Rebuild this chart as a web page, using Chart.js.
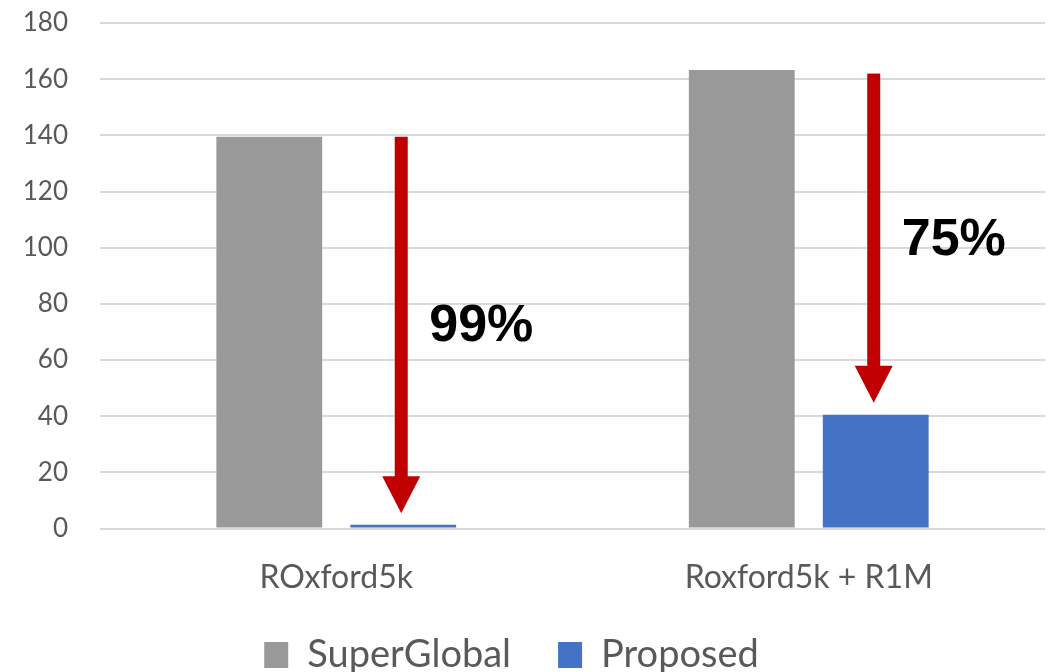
<!DOCTYPE html>
<html>
<head>
<meta charset="utf-8">
<script src="https://cdn.jsdelivr.net/npm/chart.js@4.4.1/dist/chart.umd.min.js"></script>
<style>
  html, body { margin: 0; padding: 0; background: #ffffff; }
  #wrap { width: 1055px; height: 672px; position: relative; }
</style>
</head>
<body>
<div id="wrap"><canvas id="chart" width="1055" height="672"></canvas></div>
<script>
// Benchmarks on the x axis
const categories = ['ROxford5k', 'Roxford5k + R1M'];
// Values per method
const superGlobal = [139.5, 163.3];
const proposed = [1.4, 40.5];
// Reduction arrows: start and end values for each benchmark
const arrowFrom = [139.5, 162];
const arrowTo = [5.5, 44.8];
const reductionLabels = ['99%', '75%'];
// Value axis ticks
const yMin = 0, yMax = 180, yStep = 20;

const textGrey = '#595959';
const gridGrey = '#d9d9d9';
const labelFont = 'Lato, "Open Sans", sans-serif';

// Draws the red downward arrows and the reduction percentages
const reductionArrows = {
  id: 'reductionArrows',
  afterDatasetsDraw(chart) {
    const ctx = chart.ctx;
    const y = chart.scales.y;
    const meta = chart.getDatasetMeta(1);
    const shaftW = 13, headW = 38, headH = 37;
    ctx.save();
    arrowFrom.forEach((from, i) => {
      const x = meta.data[i].x - 2;
      const top = y.getPixelForValue(from);
      const tip = y.getPixelForValue(arrowTo[i]);
      ctx.fillStyle = '#c00000';
      ctx.fillRect(x - shaftW / 2, top, shaftW, tip - headH - top + 1);
      ctx.beginPath();
      ctx.moveTo(x - headW / 2, tip - headH);
      ctx.lineTo(x + headW / 2, tip - headH);
      ctx.lineTo(x, tip);
      ctx.closePath();
      ctx.fill();
      ctx.fillStyle = '#000000';
      ctx.font = 'bold 52px "Liberation Sans", Arial, sans-serif';
      ctx.textAlign = 'left';
      ctx.textBaseline = 'middle';
      ctx.fillText(reductionLabels[i], x + 28, (top + tip) / 2 + 2);
    });
    ctx.restore();
  }
};

// Nudges the legend row slightly left of centre
const legendShift = {
  id: 'legendShift',
  afterUpdate(chart) {
    const lg = chart.legend;
    if (lg) { lg.left -= 11; lg.right -= 11; }
  }
};

new Chart(document.getElementById('chart'), {
  type: 'bar',
  data: {
    labels: categories,
    datasets: [
      { label: 'SuperGlobal', data: superGlobal, backgroundColor: '#999999' },
      { label: 'Proposed', data: proposed, backgroundColor: '#4472c4' }
    ]
  },
  options: {
    responsive: false,
    animation: false,
    devicePixelRatio: 1,
    categoryPercentage: 0.567,
    barPercentage: 0.79,
    layout: { padding: { top: 23, right: 10, left: 0, bottom: -12 } },
    plugins: {
      legend: {
        position: 'bottom',
        labels: {
          color: textGrey,
          font: { family: labelFont, size: 38 },
          boxWidth: 24,
          boxHeight: 26,
          padding: 47
        }
      },
      tooltip: { enabled: false }
    },
    scales: {
      x: {
        afterFit(scale) { scale.height -= 38; },
        grid: { display: false, drawTicks: false },
        border: { display: false },
        ticks: {
          color: textGrey,
          font: { family: labelFont, size: 32 },
          padding: 30
        }
      },
      y: {
        min: yMin,
        max: yMax,
        afterFit(scale) { scale.width = 100; },
        grid: { color: gridGrey, lineWidth: 2, drawTicks: true, tickLength: 32, tickColor: 'rgba(0,0,0,0)' },
        border: { display: false },
        ticks: {
          stepSize: yStep,
          color: textGrey,
          font: { family: labelFont, size: 26 },
          padding: 0
        }
      }
    }
  },
  plugins: [reductionArrows, legendShift]
});
</script>
</body>
</html>
